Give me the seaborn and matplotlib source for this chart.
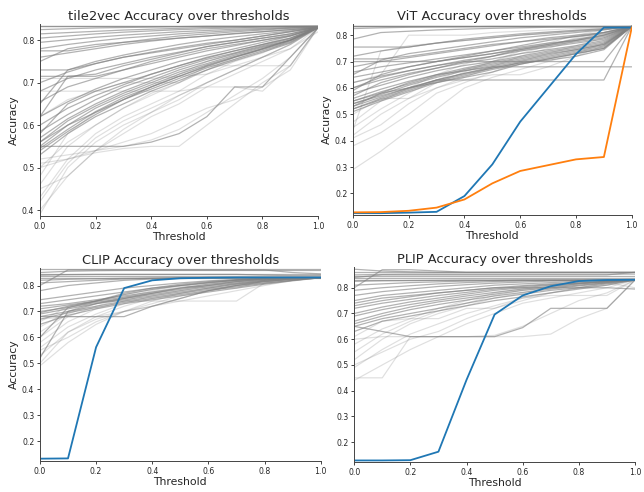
import pandas as pd
import matplotlib
matplotlib.use('Agg')
import matplotlib.pyplot as plt
import seaborn as sns

# --- DATA ---
THRESHOLDS = [0.0, 0.1, 0.2, 0.3, 0.4, 0.5, 0.6, 0.7, 0.8, 0.9, 1.0]

# tile2vec
TILE2VEC_STRONG = [
    [0.833] * 11,
    [0.833] * 11,
    [0.825, 0.827, 0.829, 0.830, 0.831, 0.832, 0.833, 0.833, 0.833, 0.833, 0.833],
    [0.815, 0.818, 0.821, 0.824, 0.826, 0.828, 0.830, 0.831, 0.832, 0.833, 0.833],
    [0.805, 0.810, 0.815, 0.819, 0.822, 0.825, 0.827, 0.829, 0.831, 0.832, 0.833],
    [0.795, 0.801, 0.807, 0.812, 0.816, 0.820, 0.823, 0.826, 0.828, 0.830, 0.832],
    [0.780, 0.790, 0.798, 0.805, 0.810, 0.815, 0.819, 0.823, 0.826, 0.829, 0.831],
    [0.775, 0.775, 0.785, 0.795, 0.803, 0.810, 0.815, 0.820, 0.824, 0.828, 0.831],
    [0.760, 0.770, 0.780, 0.790, 0.798, 0.805, 0.810, 0.816, 0.820, 0.825, 0.830],
    [0.750, 0.780, 0.790, 0.795, 0.800, 0.805, 0.810, 0.815, 0.820, 0.825, 0.830],
    [0.730, 0.730, 0.750, 0.765, 0.778, 0.790, 0.800, 0.808, 0.815, 0.822, 0.830],
    [0.715, 0.715, 0.715, 0.730, 0.750, 0.765, 0.780, 0.790, 0.800, 0.810, 0.830],
    [0.700, 0.725, 0.745, 0.760, 0.772, 0.783, 0.793, 0.800, 0.810, 0.820, 0.830],
    [0.680, 0.710, 0.730, 0.745, 0.760, 0.772, 0.785, 0.795, 0.805, 0.815, 0.830],
    [0.655, 0.690, 0.710, 0.730, 0.745, 0.760, 0.775, 0.787, 0.800, 0.812, 0.830],
    [0.620, 0.655, 0.685, 0.710, 0.730, 0.750, 0.765, 0.780, 0.795, 0.810, 0.830],
    [0.600, 0.640, 0.670, 0.695, 0.720, 0.740, 0.758, 0.775, 0.790, 0.805, 0.830],
    [0.585, 0.625, 0.660, 0.690, 0.712, 0.735, 0.755, 0.770, 0.787, 0.803, 0.830],
    [0.570, 0.615, 0.650, 0.680, 0.705, 0.730, 0.750, 0.768, 0.785, 0.800, 0.830],
    [0.560, 0.610, 0.645, 0.675, 0.700, 0.725, 0.745, 0.765, 0.783, 0.800, 0.830],
    [0.550, 0.600, 0.640, 0.670, 0.695, 0.720, 0.742, 0.762, 0.780, 0.800, 0.830],
    [0.545, 0.590, 0.632, 0.665, 0.690, 0.715, 0.738, 0.760, 0.778, 0.797, 0.830],
    [0.540, 0.585, 0.625, 0.660, 0.685, 0.710, 0.735, 0.755, 0.775, 0.795, 0.830],
    [0.530, 0.580, 0.620, 0.650, 0.680, 0.705, 0.730, 0.752, 0.772, 0.793, 0.830],
    [0.580, 0.650, 0.680, 0.700, 0.720, 0.740, 0.760, 0.775, 0.790, 0.805, 0.830],
    [0.650, 0.730, 0.745, 0.760, 0.770, 0.780, 0.790, 0.800, 0.810, 0.820, 0.830],
    [0.620, 0.715, 0.720, 0.740, 0.755, 0.770, 0.785, 0.795, 0.805, 0.815, 0.830],
    [0.550, 0.550, 0.550, 0.550, 0.560, 0.580, 0.620, 0.690, 0.690, 0.760, 0.830],
    [0.560, 0.600, 0.630, 0.660, 0.690, 0.715, 0.740, 0.760, 0.780, 0.800, 0.830],
]
TILE2VEC_FAINT = [
    [0.520, 0.530, 0.540, 0.550, 0.565, 0.590, 0.630, 0.670, 0.710, 0.760, 0.830],
    [0.510, 0.520, 0.535, 0.545, 0.550, 0.550, 0.600, 0.650, 0.700, 0.740, 0.830],
    [0.500, 0.520, 0.540, 0.560, 0.580, 0.610, 0.640, 0.660, 0.690, 0.730, 0.830],
    [0.710, 0.710, 0.710, 0.710, 0.710, 0.715, 0.720, 0.740, 0.760, 0.780, 0.830],
    [0.680, 0.680, 0.680, 0.680, 0.680, 0.680, 0.690, 0.690, 0.680, 0.740, 0.830],
    [0.620, 0.660, 0.680, 0.700, 0.700, 0.700, 0.740, 0.740, 0.740, 0.740, 0.830],
    [0.390, 0.500, 0.560, 0.600, 0.630, 0.660, 0.700, 0.730, 0.760, 0.790, 0.830],
    [0.400, 0.480, 0.540, 0.580, 0.620, 0.650, 0.690, 0.720, 0.750, 0.780, 0.820],
    [0.430, 0.520, 0.580, 0.620, 0.650, 0.680, 0.720, 0.750, 0.770, 0.800, 0.830],
    [0.460, 0.550, 0.600, 0.640, 0.670, 0.700, 0.730, 0.760, 0.780, 0.800, 0.830],
    [0.480, 0.580, 0.630, 0.660, 0.690, 0.720, 0.750, 0.770, 0.790, 0.810, 0.830],
    [0.450, 0.480, 0.540, 0.590, 0.630, 0.670, 0.700, 0.730, 0.760, 0.790, 0.830],
    [0.500, 0.560, 0.600, 0.640, 0.675, 0.700, 0.730, 0.755, 0.780, 0.800, 0.830],
    [0.420, 0.510, 0.570, 0.610, 0.640, 0.670, 0.700, 0.730, 0.760, 0.790, 0.830],
]

# ViT
VIT_STRONG = [
    [0.833] * 11,
    [0.833] * 11,
    [0.833] * 11,
    [0.825, 0.828, 0.830, 0.831, 0.832, 0.833, 0.833, 0.833, 0.833, 0.833, 0.833],
    [0.785, 0.810, 0.815, 0.820, 0.823, 0.826, 0.828, 0.830, 0.831, 0.832, 0.833],
    [0.755, 0.755, 0.755, 0.770, 0.785, 0.795, 0.805, 0.812, 0.818, 0.825, 0.833],
    [0.720, 0.740, 0.755, 0.770, 0.780, 0.790, 0.800, 0.807, 0.815, 0.822, 0.833],
    [0.710, 0.710, 0.720, 0.735, 0.750, 0.765, 0.775, 0.790, 0.800, 0.810, 0.833],
    [0.700, 0.700, 0.700, 0.700, 0.715, 0.730, 0.745, 0.760, 0.775, 0.790, 0.833],
    [0.680, 0.700, 0.715, 0.730, 0.745, 0.760, 0.775, 0.785, 0.795, 0.805, 0.833],
    [0.660, 0.680, 0.695, 0.710, 0.725, 0.740, 0.755, 0.770, 0.780, 0.800, 0.833],
    [0.640, 0.660, 0.680, 0.700, 0.715, 0.730, 0.750, 0.765, 0.780, 0.795, 0.833],
    [0.620, 0.645, 0.665, 0.685, 0.705, 0.720, 0.740, 0.755, 0.770, 0.785, 0.833],
    [0.600, 0.630, 0.655, 0.675, 0.695, 0.710, 0.730, 0.745, 0.760, 0.780, 0.833],
    [0.580, 0.610, 0.640, 0.665, 0.685, 0.700, 0.720, 0.740, 0.755, 0.775, 0.833],
    [0.560, 0.595, 0.625, 0.650, 0.675, 0.695, 0.715, 0.735, 0.750, 0.770, 0.833],
    [0.550, 0.585, 0.615, 0.645, 0.670, 0.690, 0.710, 0.730, 0.745, 0.765, 0.833],
    [0.540, 0.575, 0.610, 0.640, 0.665, 0.685, 0.705, 0.725, 0.745, 0.765, 0.833],
    [0.530, 0.565, 0.600, 0.630, 0.655, 0.680, 0.700, 0.720, 0.740, 0.760, 0.833],
    [0.520, 0.555, 0.590, 0.625, 0.650, 0.675, 0.695, 0.715, 0.735, 0.755, 0.833],
    [0.510, 0.550, 0.585, 0.620, 0.645, 0.670, 0.690, 0.710, 0.730, 0.750, 0.833],
    [0.570, 0.620, 0.650, 0.675, 0.700, 0.720, 0.745, 0.765, 0.785, 0.800, 0.833],
    [0.590, 0.650, 0.680, 0.700, 0.720, 0.740, 0.760, 0.780, 0.795, 0.810, 0.833],
    [0.650, 0.705, 0.730, 0.745, 0.760, 0.775, 0.790, 0.800, 0.810, 0.820, 0.833],
    [0.530, 0.580, 0.620, 0.650, 0.665, 0.680, 0.680, 0.680, 0.680, 0.680, 0.680],
    [0.550, 0.580, 0.600, 0.630, 0.630, 0.630, 0.630, 0.630, 0.630, 0.630, 0.833],
    [0.600, 0.640, 0.665, 0.685, 0.700, 0.700, 0.700, 0.700, 0.700, 0.700, 0.833],
    [0.520, 0.560, 0.595, 0.630, 0.655, 0.675, 0.695, 0.705, 0.720, 0.745, 0.833],
    [0.540, 0.570, 0.600, 0.620, 0.640, 0.660, 0.690, 0.710, 0.730, 0.750, 0.833],
]
VIT_FAINT = [
    [0.290, 0.360, 0.440, 0.520, 0.600, 0.640, 0.670, 0.700, 0.730, 0.770, 0.833],
    [0.380, 0.430, 0.500, 0.580, 0.620, 0.660, 0.700, 0.730, 0.760, 0.790, 0.833],
    [0.420, 0.500, 0.560, 0.620, 0.660, 0.700, 0.730, 0.760, 0.780, 0.800, 0.833],
    [0.450, 0.520, 0.580, 0.630, 0.670, 0.700, 0.740, 0.760, 0.790, 0.810, 0.833],
    [0.470, 0.550, 0.600, 0.650, 0.690, 0.720, 0.750, 0.770, 0.800, 0.820, 0.833],
    [0.440, 0.740, 0.760, 0.770, 0.780, 0.790, 0.800, 0.810, 0.820, 0.825, 0.833],
    [0.620, 0.650, 0.800, 0.800, 0.800, 0.810, 0.815, 0.820, 0.825, 0.830, 0.833],
    [0.500, 0.560, 0.560, 0.600, 0.630, 0.650, 0.650, 0.680, 0.720, 0.760, 0.833],
    [0.410, 0.460, 0.540, 0.600, 0.640, 0.680, 0.720, 0.750, 0.780, 0.810, 0.833],
]
VIT_BLUE = [0.125, 0.125, 0.127, 0.130, 0.190, 0.310, 0.472, 0.600, 0.728, 0.829, 0.829]
VIT_ORANGE = [0.128, 0.129, 0.134, 0.146, 0.177, 0.238, 0.285, 0.307, 0.329, 0.338, 0.829]

# CLIP
CLIP_STRONG = [
    [0.862] * 11,
    [0.850, 0.855, 0.857, 0.858, 0.858, 0.858, 0.858, 0.858, 0.858, 0.858, 0.858],
    [0.845] * 11,
    [0.840, 0.842, 0.843, 0.843, 0.843, 0.843, 0.843, 0.843, 0.840, 0.838, 0.838],
    [0.835] * 11,
    [0.828] * 11,
    [0.820, 0.824, 0.826, 0.828, 0.829, 0.830, 0.830, 0.830, 0.830, 0.830, 0.830],
    [0.810, 0.815, 0.820, 0.825, 0.828, 0.830, 0.830, 0.830, 0.830, 0.830, 0.830],
    [0.800, 0.860, 0.860, 0.860, 0.860, 0.860, 0.860, 0.860, 0.860, 0.850, 0.845],
    [0.780, 0.800, 0.810, 0.820, 0.825, 0.828, 0.830, 0.830, 0.830, 0.830, 0.830],
    [0.745, 0.760, 0.775, 0.790, 0.800, 0.810, 0.818, 0.823, 0.827, 0.830, 0.830],
    [0.730, 0.745, 0.760, 0.775, 0.790, 0.800, 0.810, 0.820, 0.825, 0.830, 0.830],
    [0.710, 0.725, 0.740, 0.755, 0.770, 0.785, 0.800, 0.810, 0.820, 0.825, 0.830],
    [0.700, 0.715, 0.735, 0.750, 0.765, 0.780, 0.795, 0.807, 0.817, 0.825, 0.830],
    [0.690, 0.710, 0.730, 0.745, 0.760, 0.775, 0.790, 0.805, 0.815, 0.823, 0.830],
    [0.680, 0.700, 0.720, 0.740, 0.755, 0.770, 0.785, 0.800, 0.810, 0.820, 0.830],
    [0.670, 0.695, 0.715, 0.735, 0.750, 0.765, 0.780, 0.795, 0.808, 0.820, 0.830],
    [0.650, 0.685, 0.710, 0.730, 0.745, 0.760, 0.775, 0.790, 0.805, 0.818, 0.830],
    [0.720, 0.730, 0.745, 0.760, 0.775, 0.790, 0.805, 0.815, 0.822, 0.828, 0.830],
    [0.695, 0.720, 0.740, 0.770, 0.790, 0.805, 0.815, 0.822, 0.827, 0.830, 0.830],
    [0.680, 0.680, 0.680, 0.680, 0.720, 0.750, 0.780, 0.800, 0.815, 0.825, 0.830],
    [0.520, 0.700, 0.730, 0.750, 0.770, 0.790, 0.800, 0.815, 0.825, 0.830, 0.830],
    [0.600, 0.715, 0.740, 0.765, 0.785, 0.800, 0.812, 0.820, 0.826, 0.830, 0.830],
]
CLIP_FAINT = [
    [0.490, 0.580, 0.650, 0.700, 0.730, 0.760, 0.780, 0.800, 0.815, 0.825, 0.830],
    [0.530, 0.620, 0.680, 0.720, 0.750, 0.770, 0.790, 0.810, 0.820, 0.828, 0.830],
    [0.560, 0.640, 0.690, 0.730, 0.760, 0.780, 0.800, 0.815, 0.822, 0.828, 0.830],
    [0.580, 0.660, 0.710, 0.740, 0.770, 0.790, 0.805, 0.817, 0.825, 0.830, 0.830],
    [0.600, 0.680, 0.720, 0.750, 0.775, 0.795, 0.810, 0.820, 0.827, 0.830, 0.830],
    [0.620, 0.690, 0.730, 0.755, 0.780, 0.800, 0.812, 0.822, 0.828, 0.830, 0.830],
    [0.640, 0.700, 0.740, 0.765, 0.785, 0.800, 0.790, 0.790, 0.820, 0.830, 0.830],
    [0.550, 0.600, 0.660, 0.700, 0.740, 0.770, 0.790, 0.805, 0.820, 0.830, 0.830],
    [0.500, 0.620, 0.670, 0.700, 0.720, 0.750, 0.780, 0.800, 0.820, 0.830, 0.830],
    [0.670, 0.680, 0.680, 0.700, 0.720, 0.740, 0.760, 0.780, 0.800, 0.820, 0.830],
    [0.660, 0.720, 0.740, 0.740, 0.740, 0.740, 0.740, 0.740, 0.810, 0.830, 0.830],
]
CLIP_BLUE = [0.132, 0.133, 0.562, 0.790, 0.820, 0.828, 0.830, 0.831, 0.831, 0.831, 0.831]

# PLIP
PLIP_STRONG = [
    [0.872, 0.865, 0.862, 0.860, 0.860, 0.860, 0.860, 0.860, 0.860, 0.860, 0.860],
    [0.860] * 11,
    [0.850, 0.852, 0.853, 0.853, 0.853, 0.853, 0.853, 0.853, 0.853, 0.853, 0.853],
    [0.845] * 11,
    [0.838] * 11,
    [0.830] * 11,
    [0.825, 0.827, 0.828, 0.829, 0.830, 0.830, 0.830, 0.830, 0.830, 0.830, 0.830],
    [0.810, 0.815, 0.820, 0.823, 0.826, 0.828, 0.830, 0.830, 0.830, 0.830, 0.830],
    [0.790, 0.800, 0.808, 0.815, 0.820, 0.824, 0.827, 0.829, 0.830, 0.830, 0.830],
    [0.770, 0.785, 0.795, 0.805, 0.812, 0.818, 0.822, 0.826, 0.828, 0.830, 0.830],
    [0.750, 0.770, 0.780, 0.790, 0.800, 0.810, 0.815, 0.820, 0.825, 0.828, 0.830],
    [0.730, 0.750, 0.765, 0.780, 0.790, 0.800, 0.808, 0.815, 0.820, 0.825, 0.830],
    [0.720, 0.740, 0.755, 0.770, 0.782, 0.795, 0.805, 0.812, 0.818, 0.825, 0.830],
    [0.700, 0.725, 0.745, 0.760, 0.775, 0.790, 0.800, 0.810, 0.817, 0.824, 0.830],
    [0.690, 0.715, 0.735, 0.752, 0.768, 0.782, 0.795, 0.805, 0.815, 0.822, 0.830],
    [0.670, 0.700, 0.725, 0.745, 0.760, 0.775, 0.790, 0.800, 0.810, 0.820, 0.830],
    [0.660, 0.690, 0.715, 0.735, 0.752, 0.768, 0.782, 0.795, 0.807, 0.818, 0.830],
    [0.650, 0.680, 0.700, 0.720, 0.740, 0.760, 0.775, 0.790, 0.800, 0.815, 0.830],
    [0.630, 0.670, 0.690, 0.710, 0.730, 0.750, 0.765, 0.780, 0.795, 0.810, 0.830],
    [0.740, 0.760, 0.770, 0.780, 0.790, 0.800, 0.800, 0.800, 0.800, 0.800, 0.795],
    [0.650, 0.630, 0.610, 0.610, 0.610, 0.610, 0.645, 0.720, 0.720, 0.720, 0.830],
    [0.840, 0.850, 0.850, 0.850, 0.850, 0.850, 0.850, 0.850, 0.850, 0.850, 0.860],
    [0.800, 0.870, 0.870, 0.865, 0.860, 0.860, 0.860, 0.860, 0.860, 0.860, 0.860],
]
PLIP_FAINT = [
    [0.450, 0.450, 0.610, 0.610, 0.610, 0.610, 0.610, 0.620, 0.680, 0.720, 0.830],
    [0.440, 0.500, 0.560, 0.610, 0.660, 0.700, 0.740, 0.760, 0.780, 0.800, 0.830],
    [0.490, 0.560, 0.620, 0.660, 0.700, 0.730, 0.760, 0.780, 0.800, 0.810, 0.830],
    [0.520, 0.600, 0.660, 0.700, 0.730, 0.760, 0.780, 0.800, 0.810, 0.820, 0.830],
    [0.550, 0.620, 0.670, 0.710, 0.740, 0.770, 0.790, 0.800, 0.815, 0.825, 0.830],
    [0.580, 0.640, 0.680, 0.720, 0.750, 0.780, 0.795, 0.805, 0.815, 0.825, 0.830],
    [0.600, 0.610, 0.610, 0.610, 0.610, 0.615, 0.650, 0.700, 0.750, 0.780, 0.830],
    [0.610, 0.670, 0.680, 0.680, 0.720, 0.720, 0.760, 0.770, 0.770, 0.770, 0.830],
    [0.500, 0.550, 0.600, 0.630, 0.680, 0.720, 0.750, 0.780, 0.800, 0.820, 0.800],
]
PLIP_BLUE = [0.129, 0.129, 0.130, 0.163, 0.442, 0.696, 0.770, 0.806, 0.826, 0.830, 0.831]

BLUE = '#1f77b4'
ORANGE = '#ff7f0e'


def to_long(runs):
    """Pasa una lista de curvas a formato largo para seaborn."""
    rows = []
    for i, run in enumerate(runs):
        for t, acc in zip(THRESHOLDS, run):
            rows.append({'run': i, 'Threshold': t, 'Accuracy': acc})
    return pd.DataFrame(rows)


def plot_panel(ax, title, strong, faint, highlights, ylim, ylabel=True):
    sns.lineplot(data=to_long(faint), x='Threshold', y='Accuracy', units='run',
                 estimator=None, color='gray', alpha=0.25, lw=0.85, ax=ax)
    sns.lineplot(data=to_long(strong), x='Threshold', y='Accuracy', units='run',
                 estimator=None, color='gray', alpha=0.6, lw=0.9, ax=ax)
    for vals, col in highlights:
        sns.lineplot(x=THRESHOLDS, y=vals, color=col, lw=1.3, ax=ax)

    ax.set_xlim(0, 1)
    ax.set_ylim(*ylim)
    ax.set_title(title, fontsize=9.4, pad=3)
    ax.set_xlabel('Threshold', fontsize=7.8, labelpad=1)
    ax.set_ylabel('Accuracy' if ylabel else '', fontsize=7.8, labelpad=2)
    ax.tick_params(labelsize=5.6, length=2.5, width=0.6, pad=1.5)
    for side in ['left', 'bottom']:
        ax.spines[side].set_linewidth(0.7)
        ax.spines[side].set_color('#444444')
    sns.despine(ax=ax)


sns.set_style('ticks')
fig = plt.figure(figsize=(6.44, 4.92), dpi=100)

ax1 = fig.add_axes([0.062, 0.561, 0.432, 0.390])
ax2 = fig.add_axes([0.548, 0.563, 0.433, 0.388])
ax3 = fig.add_axes([0.062, 0.063, 0.436, 0.392])
ax4 = fig.add_axes([0.550, 0.061, 0.436, 0.396])

plot_panel(ax1, 'tile2vec Accuracy over thresholds', TILE2VEC_STRONG, TILE2VEC_FAINT,
           [], (0.386, 0.838))
ax1.set_yticks([0.4, 0.5, 0.6, 0.7, 0.8])
plot_panel(ax2, 'ViT Accuracy over thresholds', VIT_STRONG, VIT_FAINT,
           [(VIT_BLUE, BLUE), (VIT_ORANGE, ORANGE)], (0.118, 0.842))
plot_panel(ax3, 'CLIP Accuracy over thresholds', CLIP_STRONG, CLIP_FAINT,
           [(CLIP_BLUE, BLUE)], (0.123, 0.867))
plot_panel(ax4, 'PLIP Accuracy over thresholds', PLIP_STRONG, PLIP_FAINT,
           [(PLIP_BLUE, BLUE)], (0.123, 0.880), ylabel=False)

for ax in [ax2, ax3, ax4]:
    ax.set_yticks([0.2, 0.3, 0.4, 0.5, 0.6, 0.7, 0.8])
for ax in [ax1, ax2, ax3, ax4]:
    ax.set_xticks([0.0, 0.2, 0.4, 0.6, 0.8, 1.0])

fig.savefig('out.png', dpi=100)
